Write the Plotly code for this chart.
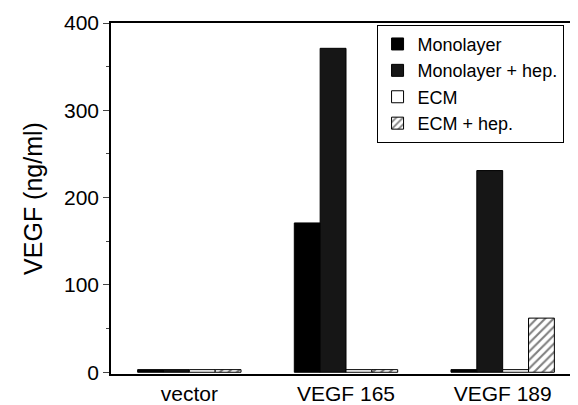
import plotly.graph_objects as go

categories = ["vector", "VEGF 165", "VEGF 189"]
monolayer = [3, 171, 3]
monolayer_hep = [3, 371, 231]
ecm = [3, 3, 3]
ecm_hep = [3, 3, 62]

y_ticks = [0, 100, 200, 300, 400]

fig = go.Figure()
fig.add_bar(x=categories, y=monolayer, name="Monolayer",
            marker=dict(color="#000000", line=dict(color="#000000", width=1)))
fig.add_bar(x=categories, y=monolayer_hep, name="Monolayer + hep.",
            marker=dict(color="#161616", line=dict(color="#000000", width=1)))
fig.add_bar(x=categories, y=ecm, name="ECM",
            marker=dict(color="#ffffff", line=dict(color="#000000", width=1)))
fig.add_bar(x=categories, y=ecm_hep, name="ECM + hep.",
            marker=dict(color="#ffffff", line=dict(color="#000000", width=1),
                        pattern=dict(shape="/", fgcolor="#000000", bgcolor="#ffffff",
                                     size=6, solidity=0.35)))

fig.update_layout(
    width=578, height=405,
    margin=dict(l=103, r=3, t=15, b=39),
    paper_bgcolor="white", plot_bgcolor="white",
    barmode="group", bargap=0.34, bargroupgap=0,
    font=dict(family="Liberation Sans, Arial, sans-serif", color="#000000", size=21),
    legend=dict(x=0.565, y=0.995, xanchor="left", yanchor="top",
                bordercolor="#000000", borderwidth=1, bgcolor="white",
                font=dict(size=18), tracegroupgap=0, itemwidth=30),
    showlegend=True,
)
fig.update_xaxes(showline=True, linecolor="#000000", linewidth=1.5, mirror=True,
                 ticks="", showgrid=False, tickfont=dict(size=21))
fig.update_yaxes(range=[-2, 400], tickvals=y_ticks, showline=True, linecolor="#000000",
                 linewidth=1.5, mirror=True, ticks="outside", ticklen=6, tickwidth=1,
                 minor=dict(tickvals=[50, 150, 250, 350], ticks="outside", ticklen=3),
                 showgrid=False, zeroline=False, tickfont=dict(size=21),
                 title=dict(text="VEGF (ng/ml)", font=dict(size=25), standoff=14))

fig.write_html("out.html")
